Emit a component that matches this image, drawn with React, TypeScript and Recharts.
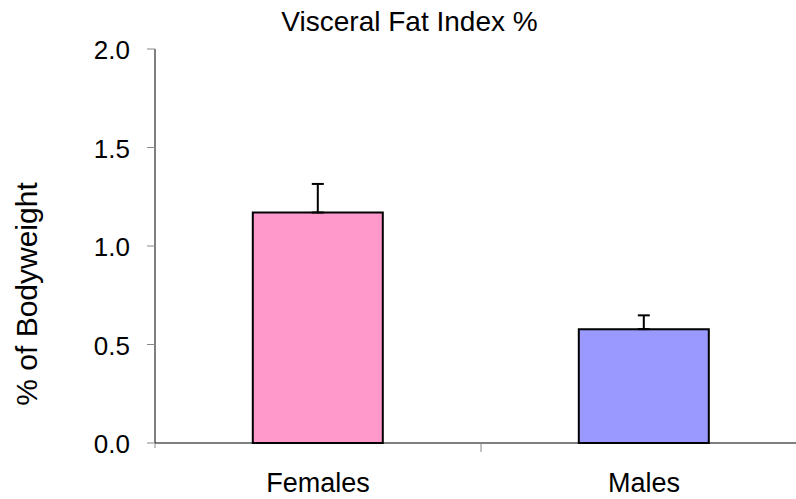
import { BarChart, Bar, XAxis, YAxis, ErrorBar, Cell, Label } from 'recharts';

const categories = ['Females', 'Males'];
const means = [1.17, 0.578];
const sems = [0.145, 0.07];
const barColors = ['#FF99CC', '#9999FF'];
const yTicks = [0, 0.5, 1.0, 1.5, 2.0];

const data = categories.map((name, i) => ({
  name,
  value: means[i],
  err: [0, sems[i]],
}));

const FONT = '"Liberation Sans", Arial, sans-serif';

function CategoryTick(props: any) {
  const { x, y, payload, index } = props;
  const half = payload && payload.offset ? payload.offset : 163;
  return (
    <g>
      {index === 0 && <line x1={x - half} y1={y} x2={x - half} y2={y + 5} stroke="#888" strokeWidth={1} />}
      <line x1={x + half} y1={y} x2={x + half} y2={y + 9} stroke="#888" strokeWidth={1} />
      <text x={x} y={y + 49} textAnchor="middle" fill="#000" fontSize={27} fontFamily={FONT}>
        {payload.value}
      </text>
    </g>
  );
}

export default function App() {
  return (
    <div
      style={{
        position: 'fixed',
        left: 0,
        top: 0,
        width: 796,
        height: 499,
        overflow: 'hidden',
        background: '#fff',
        fontFamily: FONT,
      }}
    >
      <div
        style={{
          position: 'absolute',
          left: 0,
          top: 8,
          width: 819,
          textAlign: 'center',
          fontSize: 28,
          lineHeight: '28px',
          color: '#000',
          zIndex: 1,
        }}
      >
        Visceral Fat Index %
      </div>
      <BarChart
        width={820}
        height={499}
        data={data}
        margin={{ top: 49, right: 13, bottom: 0, left: 0 }}
        barCategoryGap="30%"
      >
        <XAxis
          dataKey="name"
          height={56}
          axisLine={{ stroke: '#000', strokeWidth: 1 }}
          tickLine={false}
          tickSize={0}
          tickMargin={0}
          tick={<CategoryTick />}
          interval={0}
        />
        <YAxis
          width={155}
          domain={[0, 2]}
          ticks={yTicks}
          interval={0}
          tickFormatter={(v: number) => v.toFixed(1)}
          axisLine={{ stroke: '#000', strokeWidth: 1 }}
          tickLine={{ stroke: '#888', strokeWidth: 1 }}
          tickSize={8}
          tickMargin={17}
          tick={{ fill: '#000', fontSize: 26, fontFamily: FONT, dy: 1 }}
        >
          <Label
            content={() => (
              <text
                x={37}
                y={294}
                transform="rotate(-90 37 294)"
                textAnchor="middle"
                fill="#000"
                fontSize={30}
                fontFamily={FONT}
              >
                % of Bodyweight
              </text>
            )}
          />
        </YAxis>
        <Bar dataKey="value" stroke="#000" strokeWidth={2} isAnimationActive={false}>
          {data.map((d, i) => (
            <Cell key={d.name} fill={barColors[i]} />
          ))}
          <ErrorBar dataKey="err" direction="y" width={6} stroke="#000" strokeWidth={2} isAnimationActive={false} />
        </Bar>
      </BarChart>
    </div>
  );
}
